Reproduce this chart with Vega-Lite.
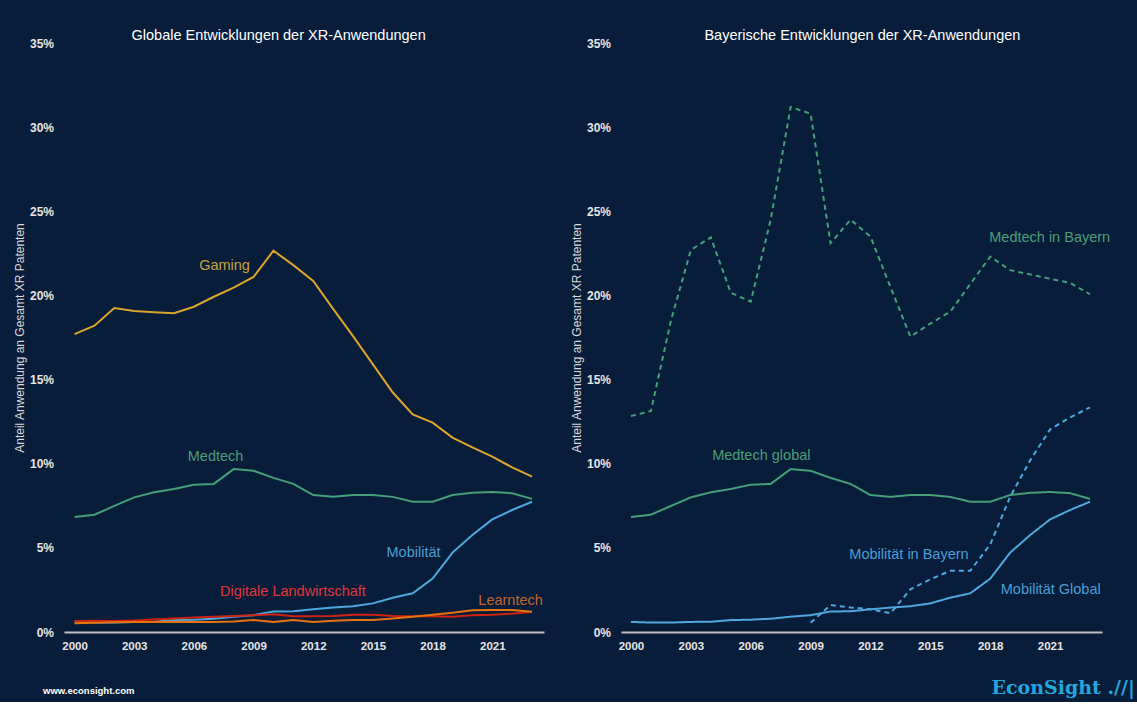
{
  "$schema": "https://vega.github.io/schema/vega-lite/v6.json",
  "background": "#081d3a",
  "padding": {"left": 13, "top": 27, "right": 5, "bottom": 5},
  "datasets": {
    "global": [
      {"cat":"Gaming","year":2000,"value":17.7},{"cat":"Gaming","year":2001,"value":18.2},{"cat":"Gaming","year":2002,"value":19.25},{"cat":"Gaming","year":2003,"value":19.07},{"cat":"Gaming","year":2004,"value":19.0},{"cat":"Gaming","year":2005,"value":18.94},{"cat":"Gaming","year":2006,"value":19.33},{"cat":"Gaming","year":2007,"value":19.92},{"cat":"Gaming","year":2008,"value":20.46},{"cat":"Gaming","year":2009,"value":21.1},{"cat":"Gaming","year":2010,"value":22.66},{"cat":"Gaming","year":2011,"value":21.8},{"cat":"Gaming","year":2012,"value":20.86},{"cat":"Gaming","year":2013,"value":19.2},{"cat":"Gaming","year":2014,"value":17.58},{"cat":"Gaming","year":2015,"value":15.9},{"cat":"Gaming","year":2016,"value":14.23},{"cat":"Gaming","year":2017,"value":12.93},{"cat":"Gaming","year":2018,"value":12.44},{"cat":"Gaming","year":2019,"value":11.55},{"cat":"Gaming","year":2020,"value":10.97},{"cat":"Gaming","year":2021,"value":10.42},{"cat":"Gaming","year":2022,"value":9.78},{"cat":"Gaming","year":2023,"value":9.23},
      {"cat":"Medtech","year":2000,"value":6.83},{"cat":"Medtech","year":2001,"value":6.97},{"cat":"Medtech","year":2002,"value":7.49},{"cat":"Medtech","year":2003,"value":8.0},{"cat":"Medtech","year":2004,"value":8.3},{"cat":"Medtech","year":2005,"value":8.5},{"cat":"Medtech","year":2006,"value":8.75},{"cat":"Medtech","year":2007,"value":8.8},{"cat":"Medtech","year":2008,"value":9.68},{"cat":"Medtech","year":2009,"value":9.58},{"cat":"Medtech","year":2010,"value":9.16},{"cat":"Medtech","year":2011,"value":8.8},{"cat":"Medtech","year":2012,"value":8.14},{"cat":"Medtech","year":2013,"value":8.03},{"cat":"Medtech","year":2014,"value":8.14},{"cat":"Medtech","year":2015,"value":8.14},{"cat":"Medtech","year":2016,"value":8.03},{"cat":"Medtech","year":2017,"value":7.74},{"cat":"Medtech","year":2018,"value":7.74},{"cat":"Medtech","year":2019,"value":8.14},{"cat":"Medtech","year":2020,"value":8.27},{"cat":"Medtech","year":2021,"value":8.32},{"cat":"Medtech","year":2022,"value":8.25},{"cat":"Medtech","year":2023,"value":7.91},
      {"cat":"Mobilitaet","year":2000,"value":0.62},{"cat":"Mobilitaet","year":2001,"value":0.57},{"cat":"Mobilitaet","year":2002,"value":0.57},{"cat":"Mobilitaet","year":2003,"value":0.6},{"cat":"Mobilitaet","year":2004,"value":0.61},{"cat":"Mobilitaet","year":2005,"value":0.71},{"cat":"Mobilitaet","year":2006,"value":0.73},{"cat":"Mobilitaet","year":2007,"value":0.79},{"cat":"Mobilitaet","year":2008,"value":0.91},{"cat":"Mobilitaet","year":2009,"value":1.0},{"cat":"Mobilitaet","year":2010,"value":1.22},{"cat":"Mobilitaet","year":2011,"value":1.23},{"cat":"Mobilitaet","year":2012,"value":1.35},{"cat":"Mobilitaet","year":2013,"value":1.45},{"cat":"Mobilitaet","year":2014,"value":1.53},{"cat":"Mobilitaet","year":2015,"value":1.7},{"cat":"Mobilitaet","year":2016,"value":2.04},{"cat":"Mobilitaet","year":2017,"value":2.3},{"cat":"Mobilitaet","year":2018,"value":3.17},{"cat":"Mobilitaet","year":2019,"value":4.72},{"cat":"Mobilitaet","year":2020,"value":5.76},{"cat":"Mobilitaet","year":2021,"value":6.69},{"cat":"Mobilitaet","year":2022,"value":7.25},{"cat":"Mobilitaet","year":2023,"value":7.74},
      {"cat":"Landwirtschaft","year":2000,"value":0.66},{"cat":"Landwirtschaft","year":2001,"value":0.67},{"cat":"Landwirtschaft","year":2002,"value":0.66},{"cat":"Landwirtschaft","year":2003,"value":0.68},{"cat":"Landwirtschaft","year":2004,"value":0.75},{"cat":"Landwirtschaft","year":2005,"value":0.8},{"cat":"Landwirtschaft","year":2006,"value":0.86},{"cat":"Landwirtschaft","year":2007,"value":0.9},{"cat":"Landwirtschaft","year":2008,"value":0.95},{"cat":"Landwirtschaft","year":2009,"value":1.0},{"cat":"Landwirtschaft","year":2010,"value":1.05},{"cat":"Landwirtschaft","year":2011,"value":0.93},{"cat":"Landwirtschaft","year":2012,"value":0.93},{"cat":"Landwirtschaft","year":2013,"value":0.95},{"cat":"Landwirtschaft","year":2014,"value":1.03},{"cat":"Landwirtschaft","year":2015,"value":1.03},{"cat":"Landwirtschaft","year":2016,"value":0.95},{"cat":"Landwirtschaft","year":2017,"value":0.93},{"cat":"Landwirtschaft","year":2018,"value":0.93},{"cat":"Landwirtschaft","year":2019,"value":0.9},{"cat":"Landwirtschaft","year":2020,"value":1.0},{"cat":"Landwirtschaft","year":2021,"value":1.03},{"cat":"Landwirtschaft","year":2022,"value":1.09},{"cat":"Landwirtschaft","year":2023,"value":1.2},
      {"cat":"Learntech","year":2000,"value":0.52},{"cat":"Learntech","year":2001,"value":0.55},{"cat":"Learntech","year":2002,"value":0.58},{"cat":"Learntech","year":2003,"value":0.6},{"cat":"Learntech","year":2004,"value":0.6},{"cat":"Learntech","year":2005,"value":0.6},{"cat":"Learntech","year":2006,"value":0.6},{"cat":"Learntech","year":2007,"value":0.6},{"cat":"Learntech","year":2008,"value":0.63},{"cat":"Learntech","year":2009,"value":0.71},{"cat":"Learntech","year":2010,"value":0.6},{"cat":"Learntech","year":2011,"value":0.71},{"cat":"Learntech","year":2012,"value":0.6},{"cat":"Learntech","year":2013,"value":0.67},{"cat":"Learntech","year":2014,"value":0.71},{"cat":"Learntech","year":2015,"value":0.71},{"cat":"Learntech","year":2016,"value":0.8},{"cat":"Learntech","year":2017,"value":0.9},{"cat":"Learntech","year":2018,"value":1.03},{"cat":"Learntech","year":2019,"value":1.15},{"cat":"Learntech","year":2020,"value":1.29},{"cat":"Learntech","year":2021,"value":1.3},{"cat":"Learntech","year":2022,"value":1.3},{"cat":"Learntech","year":2023,"value":1.2}
    ],
    "bayern": [
      {"cat":"Medtech","region":"bayern","year":2000,"value":12.83},{"cat":"Medtech","region":"bayern","year":2001,"value":13.13},{"cat":"Medtech","region":"bayern","year":2002,"value":18.5},{"cat":"Medtech","region":"bayern","year":2003,"value":22.7},{"cat":"Medtech","region":"bayern","year":2004,"value":23.45},{"cat":"Medtech","region":"bayern","year":2005,"value":20.16},{"cat":"Medtech","region":"bayern","year":2006,"value":19.63},{"cat":"Medtech","region":"bayern","year":2007,"value":24.5},{"cat":"Medtech","region":"bayern","year":2008,"value":31.2},{"cat":"Medtech","region":"bayern","year":2009,"value":30.8},{"cat":"Medtech","region":"bayern","year":2010,"value":23.1},{"cat":"Medtech","region":"bayern","year":2011,"value":24.5},{"cat":"Medtech","region":"bayern","year":2012,"value":23.5},{"cat":"Medtech","region":"bayern","year":2013,"value":20.5},{"cat":"Medtech","region":"bayern","year":2014,"value":17.55},{"cat":"Medtech","region":"bayern","year":2015,"value":18.33},{"cat":"Medtech","region":"bayern","year":2016,"value":19.03},{"cat":"Medtech","region":"bayern","year":2017,"value":20.68},{"cat":"Medtech","region":"bayern","year":2018,"value":22.3},{"cat":"Medtech","region":"bayern","year":2019,"value":21.5},{"cat":"Medtech","region":"bayern","year":2020,"value":21.25},{"cat":"Medtech","region":"bayern","year":2021,"value":20.99},{"cat":"Medtech","region":"bayern","year":2022,"value":20.75},{"cat":"Medtech","region":"bayern","year":2023,"value":20.07},
      {"cat":"Mobilitaet","region":"bayern","year":2009,"value":0.55},{"cat":"Mobilitaet","region":"bayern","year":2010,"value":1.6},{"cat":"Mobilitaet","region":"bayern","year":2011,"value":1.46},{"cat":"Mobilitaet","region":"bayern","year":2012,"value":1.35},{"cat":"Mobilitaet","region":"bayern","year":2013,"value":1.11},{"cat":"Mobilitaet","region":"bayern","year":2014,"value":2.54},{"cat":"Mobilitaet","region":"bayern","year":2015,"value":3.13},{"cat":"Mobilitaet","region":"bayern","year":2016,"value":3.64},{"cat":"Mobilitaet","region":"bayern","year":2017,"value":3.64},{"cat":"Mobilitaet","region":"bayern","year":2018,"value":5.2},{"cat":"Mobilitaet","region":"bayern","year":2019,"value":8.04},{"cat":"Mobilitaet","region":"bayern","year":2020,"value":10.2},{"cat":"Mobilitaet","region":"bayern","year":2021,"value":12.04},{"cat":"Mobilitaet","region":"bayern","year":2022,"value":12.75},{"cat":"Mobilitaet","region":"bayern","year":2023,"value":13.35},
      {"cat":"Medtech","region":"global","year":2000,"value":6.83},{"cat":"Medtech","region":"global","year":2001,"value":6.97},{"cat":"Medtech","region":"global","year":2002,"value":7.49},{"cat":"Medtech","region":"global","year":2003,"value":8.0},{"cat":"Medtech","region":"global","year":2004,"value":8.3},{"cat":"Medtech","region":"global","year":2005,"value":8.5},{"cat":"Medtech","region":"global","year":2006,"value":8.75},{"cat":"Medtech","region":"global","year":2007,"value":8.8},{"cat":"Medtech","region":"global","year":2008,"value":9.68},{"cat":"Medtech","region":"global","year":2009,"value":9.58},{"cat":"Medtech","region":"global","year":2010,"value":9.16},{"cat":"Medtech","region":"global","year":2011,"value":8.8},{"cat":"Medtech","region":"global","year":2012,"value":8.14},{"cat":"Medtech","region":"global","year":2013,"value":8.03},{"cat":"Medtech","region":"global","year":2014,"value":8.14},{"cat":"Medtech","region":"global","year":2015,"value":8.14},{"cat":"Medtech","region":"global","year":2016,"value":8.03},{"cat":"Medtech","region":"global","year":2017,"value":7.74},{"cat":"Medtech","region":"global","year":2018,"value":7.74},{"cat":"Medtech","region":"global","year":2019,"value":8.14},{"cat":"Medtech","region":"global","year":2020,"value":8.27},{"cat":"Medtech","region":"global","year":2021,"value":8.32},{"cat":"Medtech","region":"global","year":2022,"value":8.25},{"cat":"Medtech","region":"global","year":2023,"value":7.91},
      {"cat":"Mobilitaet","region":"global","year":2000,"value":0.6},{"cat":"Mobilitaet","region":"global","year":2001,"value":0.56},{"cat":"Mobilitaet","region":"global","year":2002,"value":0.56},{"cat":"Mobilitaet","region":"global","year":2003,"value":0.6},{"cat":"Mobilitaet","region":"global","year":2004,"value":0.61},{"cat":"Mobilitaet","region":"global","year":2005,"value":0.71},{"cat":"Mobilitaet","region":"global","year":2006,"value":0.73},{"cat":"Mobilitaet","region":"global","year":2007,"value":0.79},{"cat":"Mobilitaet","region":"global","year":2008,"value":0.91},{"cat":"Mobilitaet","region":"global","year":2009,"value":1.0},{"cat":"Mobilitaet","region":"global","year":2010,"value":1.22},{"cat":"Mobilitaet","region":"global","year":2011,"value":1.23},{"cat":"Mobilitaet","region":"global","year":2012,"value":1.35},{"cat":"Mobilitaet","region":"global","year":2013,"value":1.45},{"cat":"Mobilitaet","region":"global","year":2014,"value":1.53},{"cat":"Mobilitaet","region":"global","year":2015,"value":1.7},{"cat":"Mobilitaet","region":"global","year":2016,"value":2.04},{"cat":"Mobilitaet","region":"global","year":2017,"value":2.3},{"cat":"Mobilitaet","region":"global","year":2018,"value":3.17},{"cat":"Mobilitaet","region":"global","year":2019,"value":4.72},{"cat":"Mobilitaet","region":"global","year":2020,"value":5.76},{"cat":"Mobilitaet","region":"global","year":2021,"value":6.69},{"cat":"Mobilitaet","region":"global","year":2022,"value":7.25},{"cat":"Mobilitaet","region":"global","year":2023,"value":7.74}
    ],
    "labels": [
      {"panel":"L","label":"Gaming","cat":"Gaming","year":2007.54,"value":21.75},
      {"panel":"L","label":"Medtech","cat":"Medtech","year":2007.09,"value":10.42},
      {"panel":"L","label":"Mobilität","cat":"Mobilitaet","year":2017.04,"value":4.69},
      {"panel":"L","label":"Digitale Landwirtschaft","cat":"Landwirtschaft","year":2010.98,"value":2.38},
      {"panel":"L","label":"Learntech","cat":"Learntech","year":2021.92,"value":1.85},
      {"panel":"R","label":"Medtech in Bayern","cat":"Medtech","year":2020.98,"value":23.42},
      {"panel":"R","label":"Medtech global","cat":"Medtech","year":2006.53,"value":10.44},
      {"panel":"R","label":"Mobilität in Bayern","cat":"Mobilitaet","year":2013.93,"value":4.58},
      {"panel":"R","label":"Mobilität Global","cat":"Mobilitaet","year":2021.03,"value":2.48}
    ]
  },
  "hconcat": [
    {
      "width": 480,
      "height": 589,
      "title": {"text": "Globale Entwicklungen der XR-Anwendungen", "anchor": "start", "frame": "group", "dx": 67.5, "offset": -6},
      "layer": [
        {
          "data": {"name": "global"},
          "mark": {"type": "line", "strokeWidth": 2},
          "encoding": {
            "x": {"field": "year", "type": "quantitative", "scale": {"domain": [1999.47, 2023.6], "nice": false, "zero": false},
                  "axis": {"values": [2000, 2003, 2006, 2009, 2012, 2015, 2018, 2021], "format": "d", "title": "www.econsight.com", "titleAnchor": "start", "titleAlign": "left", "titleBaseline": "middle", "titleX": -21.5, "titleY": 58, "titleFontSize": 9.5, "titleFontWeight": "bold", "titleColor": "#ffffff"}},
            "y": {"field": "value", "type": "quantitative", "scale": {"domain": [0, 35], "nice": false},
                  "axis": {"values": [0, 5, 10, 15, 20, 25, 30, 35], "title": "Anteil Anwendung an Gesamt XR Patenten"}},
            "color": {"field": "cat", "type": "nominal", "legend": null,
                      "scale": {"domain": ["Gaming","Medtech","Mobilitaet","Landwirtschaft","Learntech"], "range": ["#dca42c","#45a07a","#4fa8de","#d0220e","#e8720c"]}}
          }
        },
        {
          "data": {"name": "labels"},
          "transform": [{"filter": "datum.panel === 'L'"}],
          "mark": {"type": "text", "fontSize": 14.5, "font": "Liberation Sans", "align": "center", "baseline": "middle"},
          "encoding": {
            "x": {"field": "year", "type": "quantitative"},
            "y": {"field": "value", "type": "quantitative"},
            "text": {"field": "label"},
            "fill": {"field": "cat", "type": "nominal", "legend": null,
                     "scale": {"domain": ["Gaming","Medtech","Mobilitaet","Landwirtschaft","Learntech"], "range": ["#c9a13c","#4d9d78","#4b9fd5","#e0363c","#c0652f"]}}
          }
        }
      ]
    },
    {
      "width": 481,
      "height": 589,
      "title": {"text": "Bayerische Entwicklungen der XR-Anwendungen", "anchor": "start", "frame": "group", "dx": 83.4, "offset": -6},
      "layer": [
        {
          "data": {"name": "bayern"},
          "mark": {"type": "line", "strokeWidth": 2},
          "encoding": {
            "x": {"field": "year", "type": "quantitative", "scale": {"domain": [1999.5, 2023.6], "nice": false, "zero": false},
                  "axis": {"values": [2000, 2003, 2006, 2009, 2012, 2015, 2018, 2021], "format": "d", "title": "EconSight .//|", "titleAnchor": "start", "titleAlign": "left", "titleBaseline": "middle", "titleX": 370, "titleY": 55, "titleFontSize": 19, "titleFont": "DejaVu Serif", "titleFontWeight": "bold", "titleColor": "#22a6df"}},
            "y": {"field": "value", "type": "quantitative", "scale": {"domain": [0, 35], "nice": false},
                  "axis": {"values": [0, 5, 10, 15, 20, 25, 30, 35], "title": "Anteil Anwendung an Gesamt XR Patenten"}},
            "color": {"field": "cat", "type": "nominal", "legend": null,
                      "scale": {"domain": ["Gaming","Medtech","Mobilitaet","Landwirtschaft","Learntech"], "range": ["#dca42c","#45a07a","#4fa8de","#d0220e","#e8720c"]}},
            "strokeDash": {"field": "region", "type": "nominal", "legend": null,
                           "scale": {"domain": ["global","bayern"], "range": [[1,0],[5,4]]}},
            "detail": {"field": "region"}
          }
        },
        {
          "data": {"name": "labels"},
          "transform": [{"filter": "datum.panel === 'R'"}],
          "mark": {"type": "text", "fontSize": 14.5, "font": "Liberation Sans", "align": "center", "baseline": "middle"},
          "encoding": {
            "x": {"field": "year", "type": "quantitative"},
            "y": {"field": "value", "type": "quantitative"},
            "text": {"field": "label"},
            "fill": {"field": "cat", "type": "nominal", "legend": null,
                     "scale": {"domain": ["Gaming","Medtech","Mobilitaet","Landwirtschaft","Learntech"], "range": ["#c9a13c","#4d9d78","#4b9fd5","#e0363c","#c0652f"]}}
          }
        }
      ]
    }
  ],
  "spacing": 77,
  "bounds": "flush",
  "resolve": {"scale": {"x": "independent", "y": "independent"}},
  "config": {
    "view": {"stroke": null},
    "font": "Liberation Sans",
    "title": {"color": "#ffffff", "fontSize": 14.5, "fontWeight": "normal", "font": "Liberation Sans"},
    "axisX": {"ticks": false, "grid": false, "domainColor": "#bfbfbf", "domainWidth": 2, "labelColor": "#e6e6e6", "labelFontSize": 11.5, "labelFontWeight": "bold", "labelPadding": 8, "labelFlush": false},
    "axisY": {"labelExpr": "datum.value + '%'", "ticks": false, "grid": false, "domain": false, "labelColor": "#e6e6e6", "labelFontSize": 12, "labelFontWeight": "bold", "labelPadding": 10.5, "titleColor": "#d9d9d9", "titleFontSize": 12, "titleFontWeight": "normal", "titlePadding": 3}
  }
}
